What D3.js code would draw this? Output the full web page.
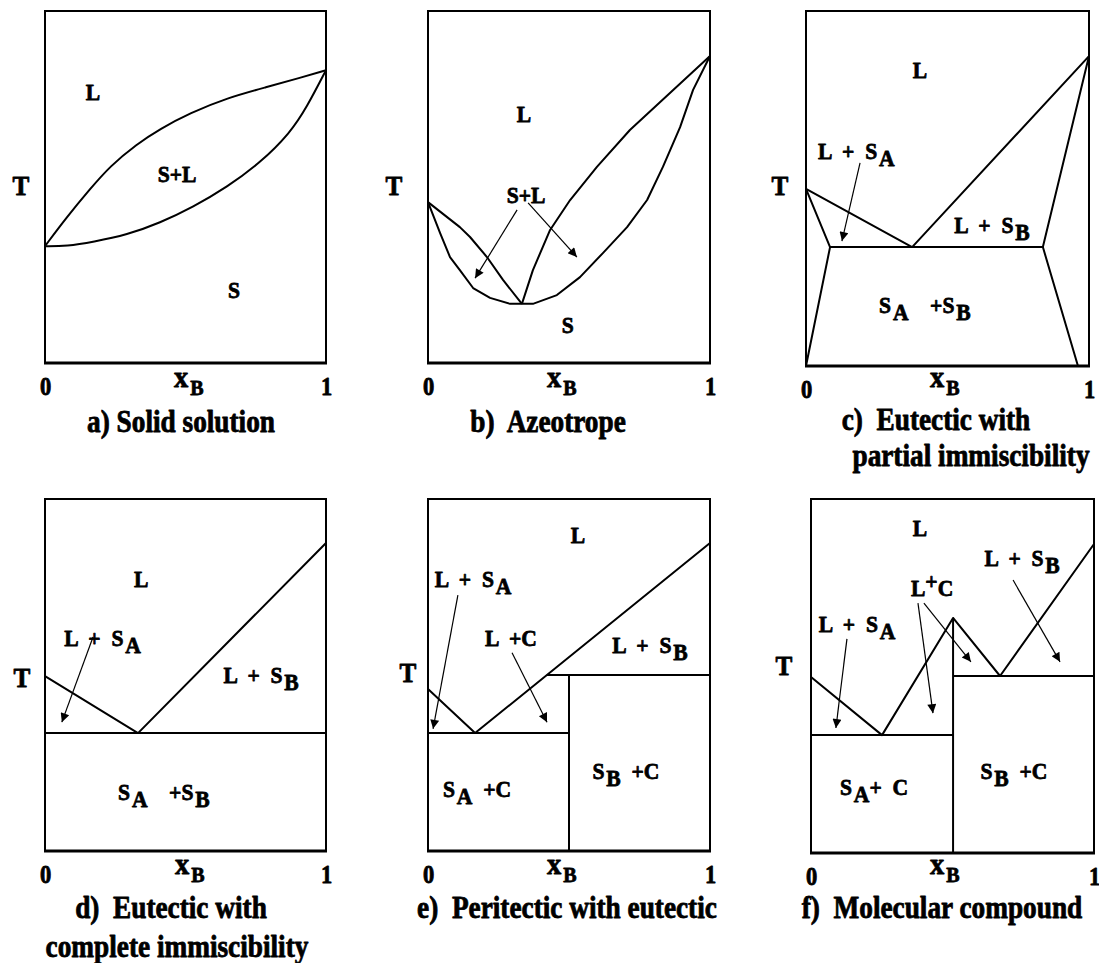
<!DOCTYPE html>
<html>
<head>
<meta charset="utf-8">
<script src="https://cdn.jsdelivr.net/npm/d3@7"></script>
<style>
  body { margin: 0; background: #fff; }
  svg text { font-family: "Liberation Serif", "Times New Roman", serif; font-weight: bold; fill: #000; stroke: #000; stroke-width: 0.8px; stroke-linejoin: round; white-space: pre; }
</style>
</head>
<body>
<svg id="chart" width="1099" height="963"></svg>
<script>
// Composition x_B runs 0..1, temperature T runs 0 (frame bottom) .. 100 (frame top).
const tickValues = [0, 1];
const tickLabels = ["0", "1"];

// a) Solid solution
const solidSolutionLiquidus = [[0,33.2],[0.078,41.5],[0.160,49.4],[0.231,55.9],[0.327,62.2],[0.409,66.5],[0.516,71.0],[0.648,75.3],[0.790,78.4],[0.907,81.0],[1,83.2]];
const solidSolutionSolidus  = [[0,33.2],[0.078,33.2],[0.171,34.4],[0.292,36.4],[0.409,39.8],[0.527,44.3],[0.648,50.0],[0.765,56.8],[0.872,65.3],[0.932,72.7],[1,83.2]];
const solidSolutionLabels = [
  { t: "L",   x: 0.171, T: 74.7 },
  { t: "S+L", x: 0.470, T: 51.4 },
  { t: "S",   x: 0.673, T: 18.5 }
];

// b) Azeotrope
const azeotropeSolidus = [[0,45.7],[0.043,36.9],[0.078,30.1],[0.113,26.4],[0.160,21.3],[0.220,18.5],[0.291,16.8],[0.372,16.8],[0.457,19.3],[0.539,24.4],[0.621,31.3],[0.706,38.6],[0.777,46.3],[0.833,55.7],[0.894,67.0],[0.940,77.6],[1,87.2]];
const azeotropeLiquidusLeft  = [[0,45.7],[0.113,38.6],[0.149,35.8],[0.209,30.1],[0.266,23.6],[0.333,16.8]];
const azeotropeLiquidusRight = [[0.333,16.8],[0.372,26.4],[0.433,37.8],[0.504,46.3],[0.599,55.7],[0.716,66.2],[0.858,76.7],[1,87.2]];
const azeotropeArrows = [[0.316,43.5,0.167,24.1],[0.355,45.5,0.528,30.1]];
const azeotropeLabels = [
  { t: "L",   x: 0.340, T: 68.5 },
  { t: "S+L", x: 0.348, T: 45.5 },
  { t: "S",   x: 0.496, T: 8.5 }
];

// c) Eutectic with partial immiscibility
const partialLiquidus = [[0,49.9],[0.375,33.5],[1,87.3]];
const partialSolvusA  = [[0,49.9],[0.085,33.5],[0,0]];
const partialSolvusB  = [[1,87.3],[0.837,33.5],[0.961,0]];
const partialEutectic = [[0.085,33.5],[0.837,33.5]];
const partialArrows = [[0.191,57.2,0.127,35.2]];
const partialLabels = [
  { t: "L",         x: 0.403, T: 81.1 },
  { t: "L + S_A",   x: 0.178, T: 58.3 },
  { t: "L + S_B",   x: 0.657, T: 37.5 },
  { t: "S_A  +S_B", x: 0.420, T: 14.9 }
];

// d) Eutectic with complete immiscibility
const completeLiquidus = [[0,49.7],[0.331,33.5],[1,87.5]];
const completeEutectic = [[0,33.5],[1,33.5]];
const completeArrows = [[0.171,60.8,0.060,36.6]];
const completeLabels = [
  { t: "L",         x: 0.342, T: 75.0 },
  { t: "L + S_A",   x: 0.205, T: 58.2 },
  { t: "L + S_B",   x: 0.769, T: 47.7 },
  { t: "S_A  +S_B", x: 0.423, T: 14.5 }
];

// e) Peritectic with eutectic
const peritecticLiquidus = [[0,46.0],[0.167,33.5],[1,87.5]];
const peritecticEutectic = [[0,33.5],[0.5,33.5]];
const peritecticLine     = [[0.421,50.0],[1,50.0]];
const peritecticCompound = [[0.5,0],[0.5,50.0]];
const peritecticArrows = [[0.106,72.7,0.018,34.7],[0.298,56.3,0.422,36.6]];
const peritecticLabels = [
  { t: "L",       x: 0.532, T: 87.5 },
  { t: "L + S_A", x: 0.160, T: 75.0 },
  { t: "L +C",    x: 0.294, T: 58.2 },
  { t: "L + S_B", x: 0.787, T: 56.3 },
  { t: "S_B +C",  x: 0.702, T: 20.5 },
  { t: "S_A +C",  x: 0.174, T: 15.3 }
];

// f) Molecular compound
const compoundLiquidus  = [[0,49.7],[0.251,33.3],[0.502,66.4],[0.668,50.0],[1,87.3]];
const compoundEutecticA = [[0,33.3],[0.502,33.3]];
const compoundEutecticB = [[0.502,50.0],[1,50.0]];
const compoundLine      = [[0.502,0],[0.502,66.4]];
const compoundArrows = [[0.127,60.5,0.088,35.3],[0.378,70.6,0.431,39.5],[0.399,70.6,0.565,54.0],[0.714,77.1,0.880,54.0]];
const compoundLabels = [
  { t: "L",       x: 0.385, T: 89.5 },
  { t: "L + S_B", x: 0.746, T: 81.1 },
  { t: "L^+C",    x: 0.428, T: 72.6 },
  { t: "L + S_A", x: 0.163, T: 62.4 },
  { t: "S_B +C",  x: 0.717, T: 20.9 },
  { t: "S_A+ C",  x: 0.223, T: 16.4 }
];

const captions = [
  ["a) Solid solution"],
  ["b)  Azeotrope"],
  ["c)  Eutectic with", "partial immiscibility"],
  ["d)  Eutectic with", "complete immiscibility"],
  ["e)  Peritectic with eutectic"],
  ["f)  Molecular compound"]
];

// Frame geometry and text placement of each panel
const panels = [
  { left: 45,  right: 326,  top: 11,  bottom: 363, tPos: [21, 195],  xbPos: [174, 387], capPos: [[181, 432]],
    lines: [solidSolutionLiquidus, solidSolutionSolidus], smooth: true, arrows: [], labels: solidSolutionLabels, caption: captions[0] },
  { left: 428, right: 710,  top: 11,  bottom: 363, tPos: [394, 195], xbPos: [547, 387], capPos: [[548, 432]],
    lines: [azeotropeSolidus, azeotropeLiquidusLeft, azeotropeLiquidusRight], arrows: azeotropeArrows, labels: azeotropeLabels, caption: captions[1] },
  { left: 806, right: 1089, top: 11,  bottom: 366, tPos: [780, 195], xbPos: [930, 387], capPos: [[936, 430], [971, 466]],
    lines: [partialLiquidus, partialSolvusA, partialSolvusB, partialEutectic], arrows: partialArrows, labels: partialLabels, caption: captions[2] },
  { left: 45,  right: 326,  top: 499, bottom: 851, tPos: [22, 687],  xbPos: [175, 874], capPos: [[171, 918], [177, 957]],
    lines: [completeLiquidus, completeEutectic], arrows: completeArrows, labels: completeLabels, caption: captions[3] },
  { left: 428, right: 710,  top: 499, bottom: 851, tPos: [408, 682], xbPos: [547, 874], capPos: [[567, 918]],
    lines: [peritecticLiquidus, peritecticEutectic, peritecticLine, peritecticCompound], arrows: peritecticArrows, labels: peritecticLabels, caption: captions[4] },
  { left: 811, right: 1094, top: 499, bottom: 853, tPos: [784, 675], xbPos: [930, 874], capPos: [[942, 918]],
    lines: [compoundLiquidus, compoundEutecticA, compoundEutecticB, compoundLine], arrows: compoundArrows, labels: compoundLabels, caption: captions[5] }
];

// Narrow, tall lettering: glyphs are drawn a little condensed horizontally
const NARROW = 0.9;

const svg = d3.select("#chart");
svg.append("rect").attr("width", 1099).attr("height", 963).attr("fill", "#fff");

svg.append("defs").append("marker")
  .attr("id", "head").attr("viewBox", "0 0 10 10")
  .attr("refX", 10).attr("refY", 5)
  .attr("markerWidth", 18).attr("markerHeight", 9)
  .attr("markerUnits", "userSpaceOnUse").attr("orient", "auto")
  .append("path").attr("d", "M0,0L10,5L0,10Z").attr("fill", "#000");

function placed(g, px, py, size, sx) {
  return g.append("text")
    .attr("transform", `translate(${px},${py}) scale(${sx},1)`)
    .attr("text-anchor", "middle").style("font-size", size + "px");
}

// Region label; "_X" lowers and "^X" raises the single character X
function addLabel(g, str, px, py) {
  const text = placed(g, px, py, 24, NARROW).style("word-spacing", "6px");
  let buf = "", offset = 0;
  const flush = () => {
    if (buf) {
      const ts = text.append("tspan").text(buf);
      if (offset) ts.attr("dy", -offset);
      offset = 0; buf = "";
    }
  };
  for (let i = 0; i < str.length; i++) {
    const c = str[i];
    if ((c === "_" || c === "^") && i + 1 < str.length) {
      flush();
      const shift = c === "_" ? 7 : -7;
      text.append("tspan").attr("dx", c === "_" ? 2 : 0).attr("dy", shift - offset).text(str[i + 1]);
      offset = shift;
      i++;
    } else buf += c;
  }
  flush();
}

panels.forEach(p => {
  const x = d3.scaleLinear().domain([0, 1]).range([p.left, p.right]);
  const y = d3.scaleLinear().domain([0, 100]).range([p.bottom, p.top]);
  const g = svg.append("g");

  const line = d3.line().x(d => x(d[0])).y(d => y(d[1]))
    .curve(p.smooth ? d3.curveBasis : d3.curveLinear);

  // frame
  g.append("rect")
    .attr("x", p.left).attr("y", p.top)
    .attr("width", p.right - p.left).attr("height", p.bottom - p.top)
    .attr("fill", "none").attr("stroke", "#000").attr("stroke-width", 2);
  g.append("line")
    .attr("x1", p.left - 1).attr("x2", p.right + 1)
    .attr("y1", p.bottom).attr("y2", p.bottom)
    .attr("stroke", "#000").attr("stroke-width", 3);

  // phase boundaries
  g.selectAll("path.bound").data(p.lines).join("path")
    .attr("class", "bound")
    .attr("d", line)
    .attr("fill", "none").attr("stroke", "#000")
    .attr("stroke-width", 2).attr("stroke-linejoin", "round");

  // pointer arrows
  g.selectAll("line.arrow").data(p.arrows).join("line")
    .attr("class", "arrow")
    .attr("x1", d => x(d[0])).attr("y1", d => y(d[1]))
    .attr("x2", d => x(d[2])).attr("y2", d => y(d[3]))
    .attr("stroke", "#000").attr("stroke-width", 1.2)
    .attr("marker-end", "url(#head)");

  // region labels
  p.labels.forEach(l => addLabel(g, l.t, x(l.x), y(l.T)));

  // composition axis: 0 and 1 at the frame ends
  const axis = d3.axisBottom(x).tickValues(tickValues)
    .tickFormat((d, i) => tickLabels[i]).tickSize(0).tickPadding(0);
  const ax = g.append("g").attr("transform", `translate(0,${p.bottom})`).call(axis);
  ax.select(".domain").remove();
  ax.selectAll("text").attr("y", 0).attr("dy", null)
    .attr("transform", `translate(0,32) scale(${NARROW},1)`)
    .style("font-size", "25px").attr("fill", "#000");

  // axis titles
  const xb = g.append("text")
    .attr("transform", `translate(${p.xbPos[0]},${p.xbPos[1]}) scale(0.95,1)`);
  xb.append("tspan").style("font-size", "30px").text("x");
  xb.append("tspan").attr("dx", 2).attr("dy", 8).style("font-size", "21px").text("B");
  placed(g, p.tPos[0], p.tPos[1], 28, NARROW).text("T");

  // caption
  p.caption.forEach((c, i) => placed(g, p.capPos[i][0], p.capPos[i][1], 31, 0.88).text(c));
});
</script>
</body>
</html>
